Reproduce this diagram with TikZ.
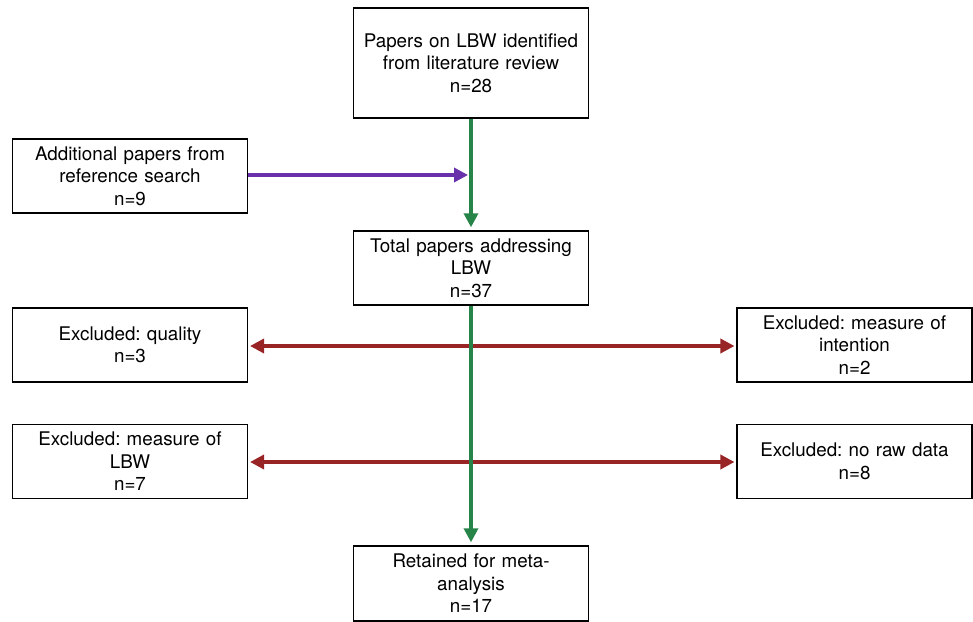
\documentclass[tikz,border=0pt]{standalone}
\usepackage{fontspec}
\setmainfont{TeX Gyre Heros}
\frenchspacing
\usetikzlibrary{arrows.meta}
\definecolor{flowgreen}{RGB}{38,132,72}
\definecolor{flowpurple}{RGB}{104,48,170}
\definecolor{flowred}{RGB}{152,36,38}
\tikzset{
    stagebox/.style={draw=black, line width=1.4pt, fill=white, align=center,
        minimum width=234pt, text width=228pt, font=\fontsize{18.8pt}{22.5pt}\selectfont},
    flowline/.style={line width=3.4pt, -{Triangle[length=14pt,width=14pt]}}
}
\begin{document}
\begin{tikzpicture}[x=1pt, y=-1pt]
            \useasboundingbox (0,0) rectangle (973,621);

            % 1. Draw the boxes
            \node[stagebox, minimum height=110pt] (lit) at (471,63) {Papers on LBW identified\\from literature review\\n=28};
            \node[stagebox, minimum height=74pt] (refs) at (130,176) {Additional papers from\\reference search\\n=9};
            \node[stagebox, minimum height=74pt] (total) at (471,268) {Total papers addressing\\LBW\\n=37};
            \node[stagebox, minimum height=74pt] (quality) at (130,345) {Excluded: quality\\n=3};
            \node[stagebox, minimum height=74pt] (intention) at (854.5,345) {Excluded: measure of\\intention\\n=2};
            \node[stagebox, minimum height=74pt] (measure) at (130,461.5) {Excluded: measure of\\LBW\\n=7};
            \node[stagebox, minimum height=74pt] (rawdata) at (854.5,461.5) {Excluded: no raw data\\n=8};
            \node[stagebox, minimum height=75pt] (retained) at (471,583.5) {Retained for meta-\\analysis\\n=17};

            % 2. Points on the main line where side arrows leave or join
            \coordinate (join) at (471,175);
            \coordinate (split1) at (471,346);
            \coordinate (split2) at (471,462);

            % 3. Exclusion arrows (under the main line)
            \draw[flowline, flowred, shorten >=2pt] (split1) -- (quality.east |- split1);
            \draw[flowline, flowred, shorten >=2pt] (split1) -- (intention.west |- split1);
            \draw[flowline, flowred, shorten >=2pt] (split2) -- (measure.east |- split2);
            \draw[flowline, flowred, shorten >=2pt] (split2) -- (rawdata.west |- split2);

            % 4. Main line and the extra papers
            \draw[flowline, flowpurple, shorten >=3pt] (refs.east |- join) -- (join);
            \draw[flowline, flowgreen, shorten >=3pt] (lit.south) -- (total.north);
            \draw[flowline, flowgreen, shorten >=3pt] (total.south) -- (retained.north);

        \end{tikzpicture}
\end{document}
